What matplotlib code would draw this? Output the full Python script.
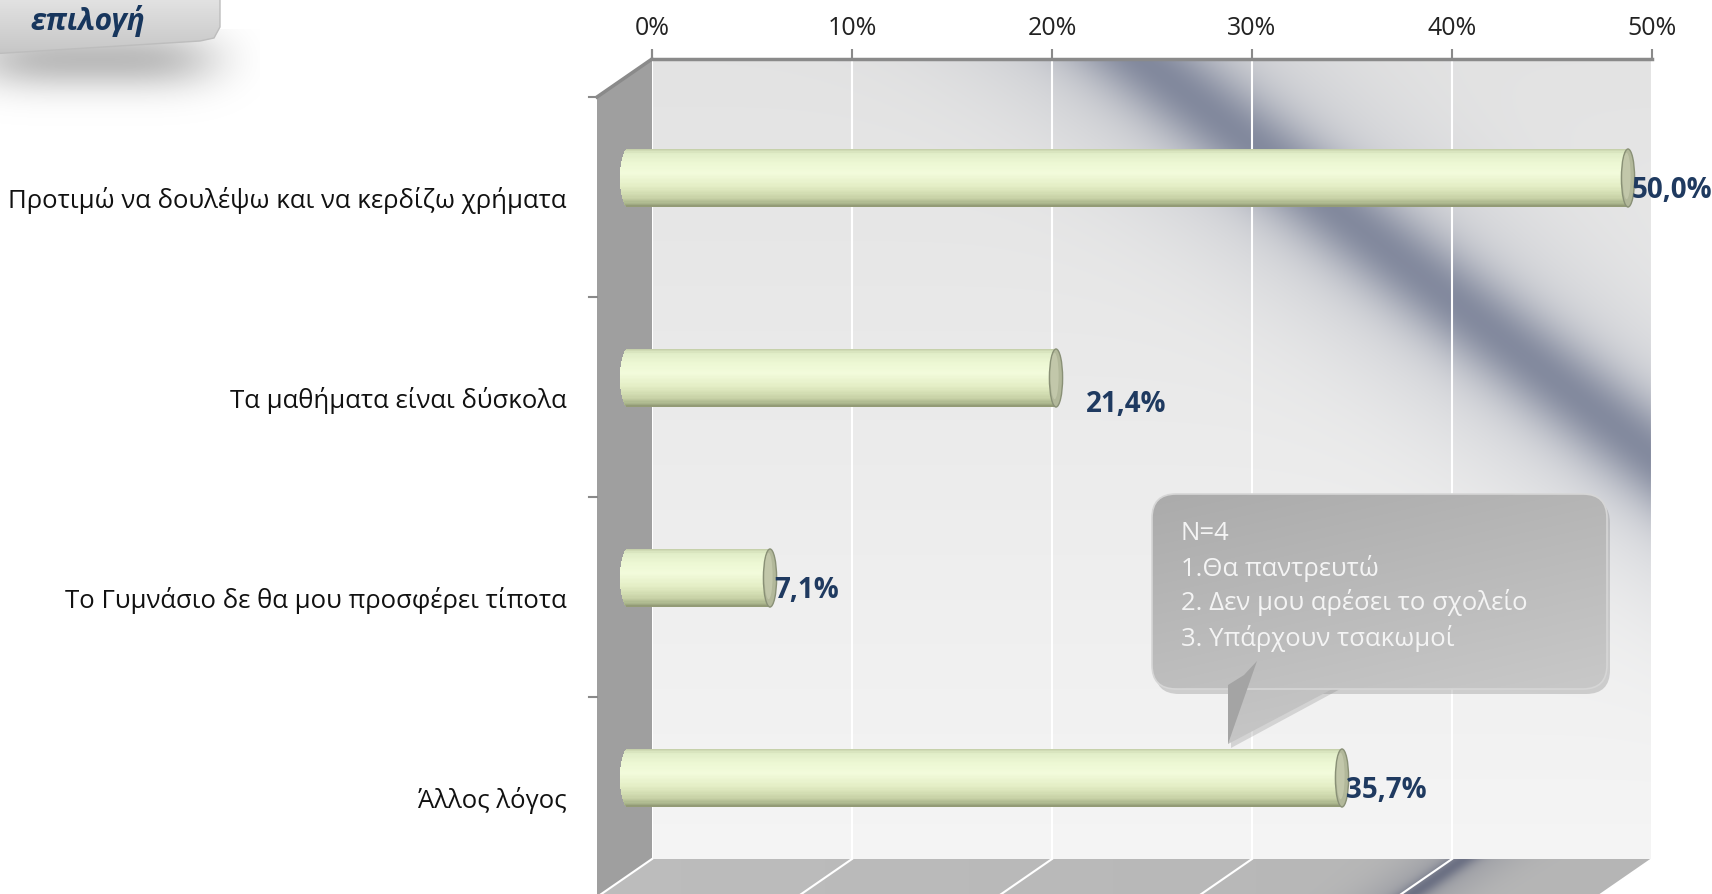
"""
Horizontal cylinder-bar chart (Excel 3D style) with a callout note.
"""
import numpy as np
import matplotlib
matplotlib.use("Agg")
import matplotlib.pyplot as plt
from matplotlib import transforms
from matplotlib.patches import Polygon, FancyBboxPatch, Ellipse

# ── data ──────────────────────────────────────────────────────────────────────
categories = [
    "Προτιμώ να δουλέψω και να κερδίζω χρήματα",
    "Τα μαθήματα είναι δύσκολα",
    "Το Γυμνάσιο δε θα μου προσφέρει τίποτα",
    "Άλλος λόγος",
]
values = [50.0, 21.4, 7.1, 35.7]
x_ticks = [0, 10, 20, 30, 40, 50]
note_lines = ["N=4", "1.Θα παντρευτώ", "2. Δεν μου αρέσει το σχολείο", "3. Υπάρχουν τσακωμοί"]
corner_title = "επιλογή"

# label nudges in pixels (dx, dy) – the 21,4% label was moved by hand
label_nudge = [(4, -12), (30, -26), (4, -11), (4, -12)]

FONT = ["Open Sans", "DejaVu Sans"]
NARROW = ["Liberation Sans Narrow", "Open Sans", "DejaVu Sans"]
NAVY = "#1F3A60"
AXIS_GREY = "#8a8a8a"

W, H = 1712, 895
fig = plt.figure(figsize=(W / 100, H / 100), dpi=100)
fig.patch.set_facecolor("white")

# background pixel axes (side wall, floor)
bg = fig.add_axes([0, 0, 1, 1], zorder=0)
bg.set_xlim(0, W)
bg.set_ylim(H, 0)
bg.axis("off")

# wall geometry in pixels
wx0, wx1, wy0, wy1 = 652, 1652, 60, 860
depth = (-55, 38)

ax = fig.add_axes([wx0 / W, (H - wy1) / H, (wx1 - wx0) / W, (wy1 - wy0) / H], zorder=1)
ax.set_facecolor("none")

# ── back wall gradient ───────────────────────────────────────────────────────
pw, ph = wx1 - wx0, wy1 - wy0
xx, yy = np.meshgrid(np.arange(pw), np.arange(ph))
base_top = np.array([0.89, 0.89, 0.89])
base_bot = np.array([0.96, 0.96, 0.96])
fy = (yy / ph)[..., None]
wall = base_top * (1 - fy) + base_bot * fy
dist = ((xx - 490) * 388 - yy * 500) / np.hypot(388, 500)
band = 0.62 * np.exp(-(dist / 42) ** 2) + 0.26 * np.exp(-(dist / 105) ** 2)
band = np.clip(band, 0, 1)[..., None]
dark = np.array([0.46, 0.49, 0.58])
wall = wall * (1 - band) + dark * band
ax.imshow(wall, extent=(0, 50, len(categories) - 0.5, -0.5), aspect="auto",
          zorder=0, interpolation="bilinear")

ax.set_xlim(0, 50)
ax.set_ylim(len(categories) - 0.5, -0.5)
ax.set_xticks(x_ticks)
ax.set_xticklabels([f"{t}%" for t in x_ticks], fontsize=18, family=FONT, color="#222222")
ax.xaxis.set_ticks_position("top")
ax.tick_params(axis="x", length=7, width=1.5, color=AXIS_GREY, pad=7)
ax.grid(axis="x", color="white", lw=1.5)
ax.set_axisbelow(True)
for side in ["left", "right", "bottom"]:
    ax.spines[side].set_visible(False)
ax.spines["top"].set_color(AXIS_GREY)
ax.spines["top"].set_linewidth(2.5)

y_pos = np.arange(len(categories))
ax.set_yticks(y_pos)
ax.set_yticklabels(categories, fontsize=18.5, family=FONT, color="#111111")
ax.tick_params(axis="y", length=0, pad=22)
shift_full = transforms.ScaledTranslation(depth[0] / 100, -depth[1] / 100, fig.dpi_scale_trans)
for lbl in ax.get_yticklabels():
    lbl.set_transform(lbl.get_transform() + shift_full)

# ── side wall and floor ──────────────────────────────────────────────────────
side = Polygon([(wx0, wy0), (wx0, wy1), (wx0 + depth[0], wy1 + depth[1]),
                (wx0 + depth[0], wy0 + depth[1])], closed=True,
               facecolor="#9f9f9f", edgecolor="none", zorder=1)
bg.add_patch(side)
bg.plot([wx0, wx0 + depth[0]], [wy0, wy0 + depth[1]], color=AXIS_GREY, lw=2.5, zorder=2)
bg.plot([wx0, wx0], [wy0 - 8, wy0], color=AXIS_GREY, lw=1.5, zorder=2)

floor_poly = Polygon([(wx0, wy1), (wx1, wy1), (wx1 + depth[0], wy1 + depth[1]),
                      (wx0 + depth[0], wy1 + depth[1])], closed=True,
                     facecolor="none", edgecolor="none", zorder=1)
bg.add_patch(floor_poly)
fx, fy2 = np.meshgrid(np.arange(580, 1680), np.arange(wy1, wy1 + depth[1] + 1))
fd = fx - (1462 + (fy2 - wy1) * depth[0] / depth[1])
fb = np.clip(0.62 * np.exp(-(fd / 16) ** 2) + 0.3 * np.exp(-(fd / 55) ** 2), 0, 1)[..., None]
fl = (0.74 - 0.03 * (fx - 580) / 1100)[..., None]
floor = fl * (1 - fb) + np.array([0.40, 0.42, 0.50]) * fb
fim = bg.imshow(floor, extent=(580, 1680, wy1 + depth[1] + 1, wy1), aspect="auto",
                zorder=1, interpolation="bilinear")
fim.set_clip_path(floor_poly)
for t in x_ticks:
    px = wx0 + t / 50 * pw
    bg.plot([px, px + depth[0]], [wy1, wy1 + depth[1]], color="white", lw=1.5, zorder=2)
bg.set_xlim(0, W)
bg.set_ylim(H, 0)

# category separator ticks on the front edge
off_full = transforms.offset_copy(ax.transData, fig=fig, x=depth[0], y=-depth[1], units="dots")
for b in np.arange(len(categories) + 1) - 0.5:
    ax.plot([-0.4, 0], [b, b], color=AXIS_GREY, lw=1.5, transform=off_full, clip_on=False)

# ── cylinder bars ────────────────────────────────────────────────────────────
off_half = transforms.offset_copy(ax.transData, fig=fig, x=-24, y=-19, units="dots")
bar_h = 0.29
r_end = 0.40
n_strips = 44
stop_t = [-1.0, -0.85, -0.5, -0.15, 0.3, 0.7, 0.9, 1.0]
stop_r = [0.76, 0.88, 0.93, 0.95, 0.89, 0.78, 0.66, 0.55]
stop_g = [0.80, 0.93, 0.97, 0.985, 0.93, 0.82, 0.70, 0.58]
stop_b = [0.65, 0.78, 0.83, 0.86, 0.77, 0.65, 0.54, 0.44]
vals = np.array(values)
for j in range(n_strips):
    tj = -1 + (2 * j + 1) / n_strips
    col = (np.interp(tj, stop_t, stop_r), np.interp(tj, stop_t, stop_g), np.interp(tj, stop_t, stop_b))
    x0 = -r_end * np.sqrt(max(0.0, 1 - tj ** 2))
    ax.barh(y_pos + tj * bar_h / 2, vals - x0, left=x0, height=bar_h / n_strips * 1.4,
            color=col, linewidth=0, transform=off_half, clip_on=False, zorder=3)
for k, v in enumerate(values):
    ax.add_patch(Ellipse((v, k), 0.66, bar_h, transform=off_half, facecolor="#b2b89a",
                         edgecolor="#899076", lw=1, zorder=4, clip_on=False))
    ax.add_patch(Ellipse((v - 0.07, k - 0.01), 0.4, bar_h * 0.8, transform=off_half,
                         facecolor="#c2c7aa", edgecolor="none", zorder=4, clip_on=False))
    txt = f"{v:.1f}".replace(".", ",") + "%"
    dx, dy = label_nudge[k]
    ax.annotate(txt, xy=(v, k), xycoords=off_half, xytext=(dx, dy),
                textcoords="offset pixels", ha="left", va="center", fontsize=20,
                fontweight="bold", family=NARROW, color=NAVY, zorder=6,
                annotation_clip=False)

# ── overlay: callout and corner box ─────────────────────────────────────────
ov = fig.add_axes([0, 0, 1, 1], zorder=2)
ov.set_xlim(0, W)
ov.set_ylim(H, 0)
ov.axis("off")
ov.patch.set_alpha(0)

bx0, by0, bw, bh = 1152, 495, 455, 195
shadow = FancyBboxPatch((bx0 + 3, by0 + 5), bw, bh, boxstyle="round,pad=0,rounding_size=24",
                        facecolor="#7a7a7a", edgecolor="none", alpha=0.3, zorder=1)
ov.add_patch(shadow)
ov.add_patch(Polygon([(1231, by0 + bh - 2), (1344, by0 + bh - 2), (1231, 749)],
                     facecolor="#7a7a7a", edgecolor="none", alpha=0.25, zorder=1))
box = FancyBboxPatch((bx0, by0), bw, bh, boxstyle="round,pad=0,rounding_size=24",
                     facecolor="none", edgecolor="#d6d6d6", lw=1.2, zorder=3)
ov.add_patch(box)
tail = Polygon([(1228, by0 + bh - 4), (1340, by0 + bh - 4), (1228, 745)],
               facecolor="none", edgecolor="none", zorder=3)
ov.add_patch(tail)
gy = np.linspace(0, 1, 120)[:, None]
gx = np.linspace(0, 1, 200)[None, :]
gshade = 0.67 + 0.10 * gy + 0.04 * gx
grad = np.dstack([gshade, gshade, gshade])
for clip in (box, tail):
    im = ov.imshow(grad, extent=(bx0, bx0 + bw, 750, by0), aspect="auto", zorder=2,
                   interpolation="bilinear")
    im.set_clip_path(clip)
ov.add_patch(Polygon([(1228, 745), (1228, by0 + bh - 4), (1244, 676), (1257, 662)],
                     facecolor="#a4a4a4", edgecolor="none", zorder=3))
for i, line in enumerate(note_lines):
    ov.text(1181, 533 + i * 35, line, fontsize=18.5, family=FONT, color="#f4f4f4",
            ha="left", va="center", zorder=4)

# corner title box with soft shadow
sx, sy = np.meshgrid(np.arange(0, 260), np.arange(30, 130))
sa = 0.55 * np.exp(-((sx - 95) / 120) ** 4) * np.exp(-((sy - 60) / 30) ** 2)
sh = np.dstack([np.full_like(sa, 0.52), np.full_like(sa, 0.52), np.full_like(sa, 0.52), sa])
ov.imshow(sh, extent=(0, 260, 130, 30), aspect="auto", zorder=1, interpolation="bilinear")
corner = Polygon([(-10, -10), (220, -10), (220, 28), (214, 39), (200, 42), (-10, 55)],
                 closed=True, facecolor="none", edgecolor="#bdbdbd", lw=1, zorder=3)
ov.add_patch(corner)
cg = np.linspace(0, 1, 60)[:, None] * np.ones((1, 80))
cshade = 0.91 - 0.14 * cg
cim = ov.imshow(np.dstack([cshade, cshade, cshade]), extent=(-10, 222, 58, -10),
                aspect="auto", zorder=2, interpolation="bilinear")
cim.set_clip_path(corner)
ov.text(88, 21, corner_title, fontsize=21.5, family=FONT, fontweight="bold",
        fontstyle="italic", color="#17365D", ha="center", va="center", zorder=4)
ov.set_xlim(0, W)
ov.set_ylim(H, 0)

fig.savefig("out.png", dpi=100)
